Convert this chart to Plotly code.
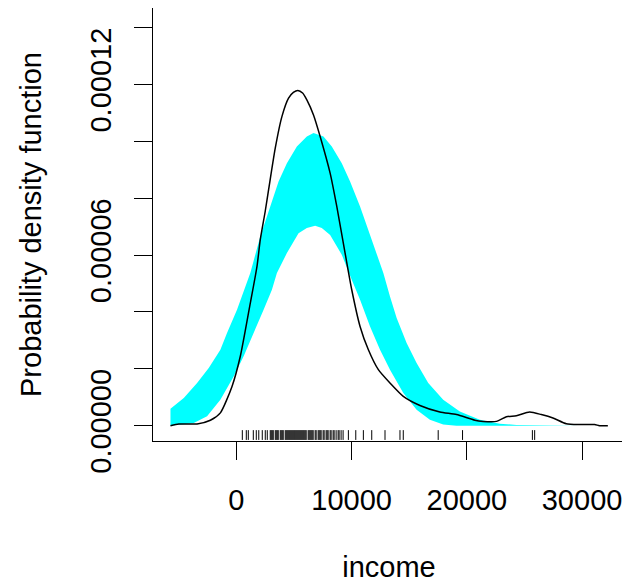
import plotly.graph_objects as go

# Kernel density estimate (black line)
dens_x = [-5714, -4993, -3405, -2251, -1385, -375, 346, 1212, 1792, 2078, 2511, 2800,
          3377, 3954, 4531, 4950, 5339, 5750, 6118, 6696, 7273, 8139, 8716, 9437, 10014,
          10736, 11458, 12323, 13333, 14488, 15931, 17662, 19105, 20693, 21414, 22569,
          23434, 24300, 25455, 26465, 27475, 28629, 29784, 31082, 31515, 32237]
dens_y = [0.0e-6, 0.6e-6, 0.6e-6, 1.9e-6, 4.5e-6, 13.8e-6, 24.4e-6, 43.1e-6, 56.0e-6,
          65.4e-6, 75.5e-6, 83.0e-6, 97.6e-6, 108.7e-6, 115.2e-6, 117.2e-6, 117.9e-6,
          117.0e-6, 114.6e-6, 109.3e-6, 101.7e-6, 88.8e-6, 77.1e-6, 60.7e-6, 47.8e-6,
          34.9e-6, 26.7e-6, 19.7e-6, 15.0e-6, 10.3e-6, 7.1e-6, 4.8e-6, 3.9e-6, 1.9e-6,
          1.5e-6, 1.5e-6, 3.1e-6, 3.5e-6, 4.8e-6, 3.9e-6, 2.7e-6, 0.7e-6, 0.4e-6,
          0.4e-6, 0.0e-6, 0.0e-6]

# Reference band (normal model) - upper edge
band_upper_x = [-5714, -4560, -3405, -2395, -1385, -808, 58, 1212, 2078, 2944, 3665,
                4387, 5253, 6118, 6696, 7561, 8283, 9149, 9870, 10736, 11746, 12756,
                13333, 13911, 14776, 15642, 16652, 17951, 19394, 21126, 22857, 24300,
                29784]
band_upper_y = [5.9e-6, 9.7e-6, 15.0e-6, 20.3e-6, 26.7e-6, 32.6e-6, 40.8e-6, 53.7e-6,
                66.5e-6, 77.1e-6, 85.9e-6, 92.3e-6, 98.2e-6, 101.7e-6, 102.9e-6,
                101.7e-6, 98.2e-6, 92.3e-6, 85.9e-6, 77.1e-6, 65.4e-6, 53.7e-6,
                45.4e-6, 37.9e-6, 29.1e-6, 22.0e-6, 15.0e-6, 9.1e-6, 5.0e-6, 2.1e-6,
                0.7e-6, 0.2e-6, 0.0e-6]

# Reference band - lower edge
band_lower_x = [-5714, -3694, -2540, -1385, -231, 635, 1500, 2366, 3088, 3521, 4387,
                5397, 6118, 6840, 7417, 8139, 9149, 10014, 10736, 11602, 12468, 13333,
                14488, 15642, 16797, 17951, 19105, 29784]
band_lower_y = [0.0e-6, 0.9e-6, 3.3e-6, 9.1e-6, 17.3e-6, 24.4e-6, 32.6e-6, 40.8e-6,
                47.8e-6, 53.7e-6, 60.7e-6, 67.7e-6, 69.5e-6, 70.3e-6, 69.5e-6, 67.1e-6,
                60.1e-6, 51.3e-6, 44.3e-6, 34.9e-6, 26.7e-6, 19.7e-6, 11.5e-6, 5.6e-6,
                2.1e-6, 0.4e-6, 0.0e-6, 0.0e-6]

# Observed incomes (rug)
income = [519, 866, 1039, 1472, 1732, 1948, 2251, 2511, 2684,
          2944, 3030, 3117, 3203, 3377, 3463, 3550, 3636, 3810, 3896, 3983, 4069,
          4242, 4329, 4416, 4502, 4589, 4675, 4762, 4848, 4935, 5022, 5108, 5195,
          5281, 5368, 5455, 5541, 5628, 5714, 5801, 5887, 5974, 6061, 6234, 6320,
          6407, 6494, 6580, 6667, 6840, 6926, 7100, 7186, 7273, 7359, 7532, 7619,
          7792, 7879, 7965, 8139, 8225, 8398, 8485, 8658, 8831, 8918, 9091, 9264,
          9723, 10364, 11022, 11749, 12900, 14199, 14485, 17515, 19628, 25688, 25887]

# Axis ticks
x_ticks = [0, 10000, 20000, 30000]
x_ticklabels = ["0", "10000", "20000", "30000"]
y_ticks = [0, 2e-5, 4e-5, 6e-5, 8e-5, 10e-5, 12e-5, 14e-5]
y_ticklabels = ["0.00000", "", "", "0.00006", "", "", "0.00012", ""]

FONT = "Liberation Sans, Arial, sans-serif"
Y_MIN, Y_MAX = -5.4e-6, 1.469e-4
RUG_Y = -3.3e-6

fig = go.Figure()

# band polygon: upper edge then lower edge reversed
fig.add_trace(go.Scatter(
    x=band_upper_x + band_lower_x[::-1],
    y=band_upper_y + band_lower_y[::-1],
    fill="toself", fillcolor="#00FFFF", mode="none", hoverinfo="skip",
    showlegend=False))

fig.add_trace(go.Scatter(
    x=dens_x, y=dens_y, mode="lines", line_shape="spline",
    line=dict(color="black", width=1.5, smoothing=0.6), showlegend=False))

fig.add_trace(go.Scatter(
    x=income, y=[RUG_Y] * len(income), mode="markers",
    marker=dict(symbol="line-ns", size=7, line=dict(color="black", width=1)),
    showlegend=False, cliponaxis=False))

axis_common = dict(
    showline=True, linecolor="black", linewidth=1, mirror=True,
    ticks="outside", ticklen=18, tickwidth=1, tickcolor="black",
    showgrid=False, zeroline=False, automargin=False,
    tickfont=dict(family=FONT, size=29, color="black"),
)

# The page body adds an 8px offset, so the figure is 8px smaller and margins compensate.
fig.update_layout(
    width=622, height=575,
    margin=dict(l=145, r=5, t=0, b=142, autoexpand=False),
    paper_bgcolor="white", plot_bgcolor="white",
    font=dict(family=FONT, color="black"),
    xaxis=dict(range=[-7231, 33725], tickvals=x_ticks, ticktext=x_ticklabels,
               ticklabelstandoff=15,
               title=dict(text="income", font=dict(family=FONT, size=29), standoff=51),
               **axis_common),
    yaxis=dict(range=[Y_MIN, Y_MAX], tickvals=y_ticks, ticktext=y_ticklabels,
               tickangle=-90, ticklabelstandoff=11,
               title=dict(text="Probability density function",
                          font=dict(family=FONT, size=29), standoff=35),
               **axis_common),
)

fig.write_html("out.html")
